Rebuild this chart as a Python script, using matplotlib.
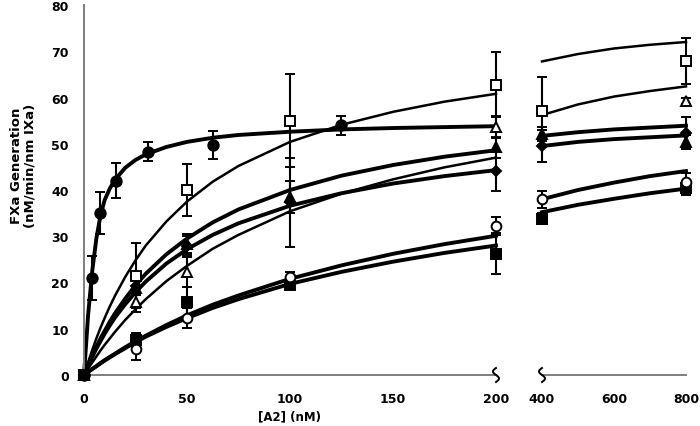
import numpy as np
import matplotlib.pyplot as plt
from matplotlib.lines import Line2D

plt.rcParams['font.family'] = ['DejaVu Sans']
plt.rcParams['font.weight'] = 'bold'

# measured points (mean, error)
x_circ = [0, 3.9, 7.8, 15.6, 31.25, 62.5, 125]
y_circ = [0, 21, 35, 42, 48.3, 49.8, 54]
e_circ = [0, 4.8, 4.5, 3.8, 2, 3, 2]

x_pts = [0, 25, 50, 100, 200, 400, 800]
y_osq = [0, 21.5, 40, 55, 62.8, 57.1, 67.9]
e_osq = [0, 7, 5.6, 10, 7, 7.3, 5]
y_ftri = [0, 18.8, 28.4, 38.5, 49.2, 52.2, 50.4]
e_ftri = [0, 1.5, 2, 3.5, 2.3, 1.5, 1.5]
y_fdia = [0, 19.3, 28, 37.3, 44.1, 49.5, 52.3]
e_fdia = [0, 2, 2, 9.7, 4.3, 3.5, 3.5]
y_ocir = [0, 5.6, 12.3, 21.2, 32.2, 38, 41.7]
e_ocir = [0, 2.4, 2.1, 1, 2, 1.8, 2]
y_fsq = [0, 7.6, 15.8, 19.5, 26.2, 33.8, 40.5]
e_fsq = [0, 1.5, 3.2, 1, 4.4, 1.2, 1.5]

x_otri = [0, 25, 50, 200, 800]
y_otri = [0, 15.7, 22.3, 53.6, 59.2]
e_otri = [0, 2, 3.3, 2.3, 0.6]

# fitted curves
xf_left = [0, 2, 4, 6, 8, 10, 12.5, 15, 20, 25, 30, 40, 50, 62.5, 75, 100, 125, 150, 175, 200]
xf_right = [400, 500, 600, 700, 800]
fit_circ = [0, 13, 22.5, 29.5, 34.5, 37.8, 40.3, 42.2, 44.8, 46.5, 47.7, 49.3, 50.4, 51.3, 51.9, 52.6, 53.1, 53.4, 53.6, 53.8]
fit_osq_l = [0, 2.8, 5.4, 7.9, 10.2, 12.3, 14.8, 17.1, 21.2, 24.8, 28.0, 33.2, 37.5, 41.8, 45.2, 50.4, 54.1, 56.9, 59.1, 60.8]
fit_osq_r = [67.8, 69.4, 70.6, 71.4, 72.0]
fit_otri_l = [0, 1.4, 2.7, 4.0, 5.3, 6.5, 7.9, 9.3, 11.9, 14.2, 16.4, 20.3, 23.6, 27.3, 30.3, 35.4, 39.2, 42.3, 44.9, 47.0]
fit_otri_r = [56.2, 58.5, 60.2, 61.4, 62.4]
fit_ftri_l = [0, 2.2, 4.2, 6.1, 7.9, 9.5, 11.5, 13.3, 16.5, 19.4, 21.9, 26.1, 29.5, 33.0, 35.8, 40.0, 43.1, 45.4, 47.2, 48.6]
fit_ftri_r = [51.7, 52.5, 53.1, 53.5, 53.9]
fit_fdia_l = [0, 2.0, 3.9, 5.7, 7.3, 8.9, 10.7, 12.4, 15.3, 17.9, 20.2, 24.1, 27.2, 30.3, 32.8, 36.6, 39.3, 41.4, 43.0, 44.3]
fit_fdia_r = [49.5, 50.4, 51.0, 51.4, 51.8]
fit_ocir_l = [0, 0.7, 1.3, 1.9, 2.6, 3.2, 3.9, 4.6, 6.0, 7.3, 8.5, 10.8, 12.9, 15.2, 17.2, 20.8, 23.7, 26.2, 28.3, 30.1]
fit_ocir_r = [38.0, 40.0, 41.6, 43.0, 44.1]
fit_fsq_l = [0, 0.65, 1.3, 1.9, 2.5, 3.1, 3.8, 4.5, 5.8, 7.1, 8.3, 10.4, 12.3, 14.5, 16.4, 19.7, 22.3, 24.5, 26.4, 28.0]
fit_fsq_r = [35.2, 36.8, 38.1, 39.3, 40.3]

fig = plt.figure(figsize=(7, 4.27), dpi=100)
ax1 = fig.add_axes([84/700, 51/427, 412/700, 370/427])
ax2 = fig.add_axes([542/700, 51/427, 144/700, 370/427])

THICK = 2.8
THIN = 1.8
ax1.plot(xf_left, fit_circ, color='black', lw=THICK, clip_on=False)
for ys_l, ys_r, lw in [
    (fit_osq_l, fit_osq_r, THIN),
    (fit_otri_l, fit_otri_r, THIN),
    (fit_ftri_l, fit_ftri_r, THICK),
    (fit_fdia_l, fit_fdia_r, THICK),
    (fit_ocir_l, fit_ocir_r, THICK),
    (fit_fsq_l, fit_fsq_r, THICK),
]:
    ax1.plot(xf_left, ys_l, color='black', lw=lw, clip_on=False)
    ax2.plot(xf_right, ys_r, color='black', lw=lw, clip_on=False)

series = [
    (x_pts, y_fdia, e_fdia, 'D', 'black', 5.5),
    (x_pts, y_ftri, e_ftri, '^', 'black', 7),
    (x_otri, y_otri, e_otri, '^', 'white', 7),
    (x_pts, y_fsq, e_fsq, 's', 'black', 6.5),
    (x_pts, y_ocir, e_ocir, 'o', 'white', 7),
    (x_pts, y_osq, e_osq, 's', 'white', 7),
    (x_circ, y_circ, e_circ, 'o', 'black', 7.5),
]
for xs, ys, es, mk, fc, ms in series:
    xs = np.array(xs)
    ys = np.array(ys)
    es = np.array(es)
    for ax, m in [(ax1, xs <= 200), (ax2, xs >= 400)]:
        if not m.any():
            continue
        eb = ax.errorbar(xs[m], ys[m], yerr=es[m], fmt=mk, mfc=fc, mec='black', mew=1.4,
                         ms=ms, ecolor='black', elinewidth=1.5, capsize=3.8, capthick=1.5,
                         zorder=4)
        for art in eb.lines[0:1] + tuple(eb.lines[1]) + tuple(eb.lines[2]):
            art.set_clip_on(False)

spine_col = '#7f7f7f'
ax1.set_xlim(0, 200)
ax2.set_xlim(400, 800)
for ax in (ax1, ax2):
    ax.set_ylim(0, 80)
    ax.set_facecolor('none')
    ax.spines['top'].set_visible(False)
    ax.spines['right'].set_visible(False)
    ax.spines['bottom'].set_color(spine_col)
    ax.spines['bottom'].set_linewidth(1.4)
    ax.tick_params(length=0, labelsize=9, pad=12)
ax1.spines['left'].set_color(spine_col)
ax1.spines['left'].set_linewidth(1.4)
ax1.set_xticks([0, 50, 100, 150, 200])
ax1.set_yticks(range(0, 81, 10))
ax1.tick_params(axis='y', pad=11)
ax2.spines['left'].set_visible(False)
ax2.set_yticks([])
ax2.set_xticks([400, 600, 800])

# axis break squiggles
t = np.linspace(0, 1, 40)
for px in (496, 542):
    xs = (px + 3 * np.sin(2 * np.pi * t)) / 700
    ys = (51 - 7 + 14 * t) / 427
    fig.add_artist(Line2D(xs, ys, transform=fig.transFigure, color='black', lw=1.4))

fig.text(290/700, 10/427, '[A2] (nM)', ha='center', va='center', fontsize=8.5, fontweight='bold')
fig.text(23/700, (427 - 166)/427, 'FXa Generation\n(nM/min/nm IXa)', ha='center', va='center',
         rotation=90, fontsize=9.5, fontweight='bold', multialignment='center', linespacing=1.05)

fig.savefig('out.png', dpi=100)
